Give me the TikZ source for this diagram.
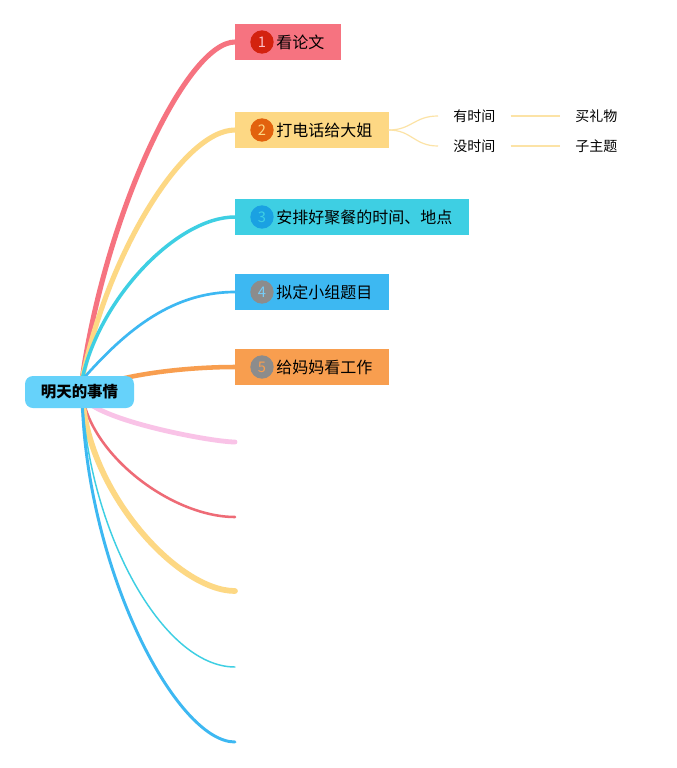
\documentclass[tikz,border=0pt]{standalone}
\usepackage{fontspec}
\newfontfamily\cjk{Noto Sans CJK SC}
\definecolor{rootc}{HTML}{66D2FA}
\definecolor{redc}{HTML}{F67380}
\definecolor{redd}{HTML}{D3220F}
\definecolor{yelc}{HTML}{FDD884}
\definecolor{yeld}{HTML}{E2620E}
\definecolor{cyac}{HTML}{3ECFE3}
\definecolor{cyad}{HTML}{1AA1E2}
\definecolor{bluc}{HTML}{3DB8F2}
\definecolor{orac}{HTML}{F89E4F}
\definecolor{grayd}{HTML}{8C8C8C}
\definecolor{pinkc}{HTML}{F9C3E7}
\definecolor{red2c}{HTML}{EE6B76}
\definecolor{sublc}{HTML}{FCE3A6}
\begin{document}
\begin{tikzpicture}[x=0.75pt,y=-0.75pt,
  topicbox/.style={draw=none,minimum height=26.25pt,inner sep=0pt,anchor=west},
  numdot/.style={circle,minimum size=17.5pt,inner sep=0pt,font=\cjk\fontsize{11}{11}\selectfont},
  topictext/.style={anchor=west,inner sep=0pt,font=\cjk\fontsize{12}{14}\selectfont},
  subtext/.style={inner xsep=11.25pt,inner ysep=2pt,font=\cjk\fontsize{10.5}{12}\selectfont},
  branch/.style={line cap=round}]
\useasboundingbox (0,0) rectangle (677,768);
\fill[white] (0,0) rectangle (677,768);
% anchors
\coordinate (cu) at (82,380);
\coordinate (c) at (82,393);
\coordinate (e6) at (235,442);
\coordinate (e7) at (235,517);
\coordinate (e8) at (235,591);
\coordinate (e9) at (235,667);
\coordinate (e10) at (235,742);
% boxes
\node[topicbox,fill=redc,minimum width=78.75pt] (b1) at (235,42) {};
\node[topicbox,fill=yelc,minimum width=114.75pt] (b2) at (235,130) {};
\node[topicbox,fill=cyac,minimum width=174.75pt] (b3) at (235,217) {};
\node[topicbox,fill=bluc,minimum width=114.75pt] (b4) at (235,292) {};
\node[topicbox,fill=orac,minimum width=114.75pt] (b5) at (235,367) {};
% branches
\draw[branch,redc,line width=3.8pt] (cu) .. controls (106,211) and (187,42) .. (b1.west);
\draw[branch,yelc,line width=3.8pt] (cu) .. controls (107,255) and (183,130) .. (b2.west);
\draw[branch,cyac,line width=2.6pt] (cu) .. controls (99,298.5) and (177,217) .. (b3.west);
\draw[branch,bluc,line width=2pt] (cu) .. controls (121,336) and (168,292) .. (b4.west);
\draw[branch,orac,line width=3.4pt] (c) .. controls (110,376) and (180,367) .. (b5.west);
\draw[branch,pinkc,line width=3.6pt] (c) .. controls (82,417.5) and (210,442) .. (e6);
\draw[branch,red2c,line width=1.9pt] (c) .. controls (90,455) and (172,517) .. (e7);
\draw[branch,yelc,line width=4.3pt] (c) .. controls (87,492) and (178,591) .. (e8);
\draw[branch,cyac,line width=1.1pt] (c) .. controls (88,530) and (162,667) .. (e9);
\draw[branch,bluc,line width=2.2pt] (c) .. controls (85,567.5) and (176,742) .. (e10);
% redraw boxes on top
\fill[redc] (b1.south west) rectangle (b1.north east);
\fill[yelc] (b2.south west) rectangle (b2.north east);
\fill[cyac] (b3.south west) rectangle (b3.north east);
\fill[bluc] (b4.south west) rectangle (b4.north east);
\fill[orac] (b5.south west) rectangle (b5.north east);
% root
\node[fill=rootc,rounded corners=6pt,minimum width=81.75pt,minimum height=24pt,inner sep=0pt,
  font=\cjk\bfseries\fontsize{11.6}{13}\selectfont] (root) at (79.5,392) {明天的事情};
% numbers and texts
\node[numdot,fill=redd,text=redc!45!white] (n1) at (262,42) {1};
\node[topictext] (t1) at (276,42) {看论文};
\node[numdot,fill=yeld,text=yelc] (n2) at (262,130) {2};
\node[topictext] (t2) at (276,130) {打电话给大姐};
\node[numdot,fill=cyad,text=cyac] (n3) at (262,217) {3};
\node[topictext] (t3) at (276,217) {安排好聚餐的时间、地点};
\node[numdot,fill=grayd,text=bluc!70!white] (n4) at (262,292) {4};
\node[topictext] (t4) at (276,292) {拟定小组题目};
\node[numdot,fill=grayd,text=orac] (n5) at (262,367) {5};
\node[topictext] (t5) at (276,367) {给妈妈看工作};
% sub topics
\node[subtext,anchor=west] (s1) at (438,116) {有时间};
\node[subtext,anchor=west] (s2) at (438,146) {没时间};
\node[subtext,anchor=west] (s3) at (560,116) {买礼物};
\node[subtext,anchor=west] (s4) at (560,146) {子主题};
\draw[sublc,line width=0.9pt] (b2.east) .. controls (412,130) and (414,116) .. (s1.west);
\draw[sublc,line width=0.9pt] (b2.east) .. controls (412,130) and (414,146) .. (s2.west);
\draw[sublc,line width=0.9pt] (s1.east) -- (s3.west);
\draw[sublc,line width=0.9pt] (s2.east) -- (s4.west);
\end{tikzpicture}
\end{document}
